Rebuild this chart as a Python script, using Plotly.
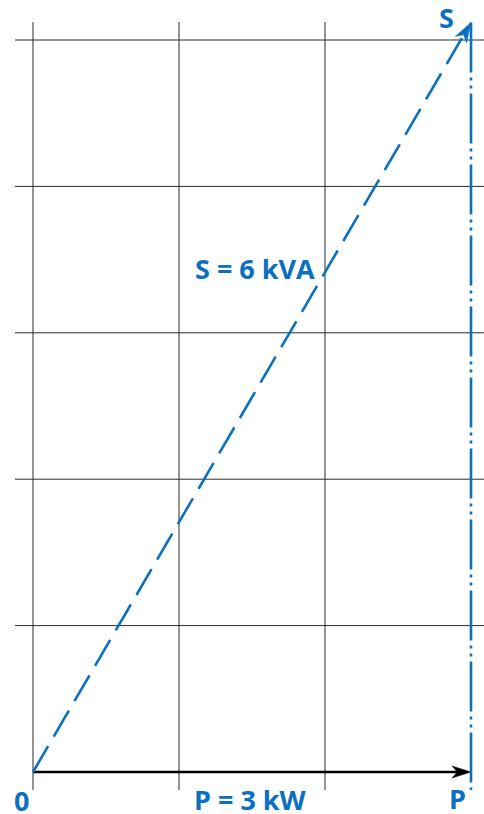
import math
import plotly.graph_objects as go

# ---- data ----
grid_x = [0, 1, 2]            # vertical grid lines (kW)
grid_y = [1, 2, 3, 4, 5]      # horizontal grid lines
P_kw = 3.0                    # active power
S_kva = 6.0                   # apparent power (label)
Q_tip = 5.12                  # height reached by the S arrow (grid units)
labels = {"S": "S", "O": "0", "P": "P", "Pval": "P = 3 kW", "Sval": "S = 6 kVA"}

BLUE = "#0a70bf"
FONT = "Open Sans"

# pixel scale of the drawing (plot occupies the whole page)
W, H = 484, 814
X0_PX, Y0_PX = 33, 772
PX_X, PX_Y = 146.0, 146.4
x_range = [-X0_PX / PX_X, (W - X0_PX) / PX_X]
y_range = [-(H - Y0_PX) / PX_Y, Y0_PX / PX_Y]
ext_x = 18 / PX_X
ext_y = 18 / PX_Y


def px(xp, yp):
    """page pixel -> data coords"""
    return (xp - X0_PX) / PX_X, (Y0_PX - yp) / PX_Y


def arrowhead(x0, y0, x1, y1, L=20, Wd=13, notch=0.72):
    dx, dy = (x1 - x0) * PX_X, (y1 - y0) * PX_Y
    n = math.hypot(dx, dy)
    ux, uy = dx / n, dy / n
    nx, ny = -uy, ux
    pts = [
        (0, 0),
        (-L * ux + Wd / 2 * nx, -L * uy + Wd / 2 * ny),
        (-notch * L * ux, -notch * L * uy),
        (-L * ux - Wd / 2 * nx, -L * uy - Wd / 2 * ny),
        (0, 0),
    ]
    xs = [x1 + p[0] / PX_X for p in pts]
    ys = [y1 + p[1] / PX_Y for p in pts]
    base = (x1 - notch * L * ux / PX_X, y1 - notch * L * uy / PX_Y)
    return xs, ys, base


fig = go.Figure()

# grid
shapes = []
for gx in grid_x:
    shapes.append(dict(type="line", xref="x", yref="y", x0=gx, x1=gx,
                       y0=-ext_y, y1=max(grid_y) + ext_y,
                       line=dict(color="#2a2a2a", width=1), layer="below"))
for gy in grid_y:
    shapes.append(dict(type="line", xref="x", yref="y", x0=-ext_x, x1=x_range[1],
                       y0=gy, y1=gy,
                       line=dict(color="#2a2a2a", width=1), layer="below"))

# P arrow (black)
pxs, pys, pbase = arrowhead(0, 0, P_kw, 0, L=19, Wd=12)
fig.add_trace(go.Scatter(x=[0, pbase[0]], y=[0, pbase[1]], mode="lines",
                         line=dict(color="black", width=2.6), hoverinfo="skip"))
fig.add_trace(go.Scatter(x=pxs, y=pys, mode="lines", fill="toself",
                         fillcolor="black", line=dict(color="black", width=0.5),
                         hoverinfo="skip"))

# S arrow (blue dashed)
sxs, sys_, sbase = arrowhead(0, 0, P_kw, Q_tip, L=20, Wd=13)
fig.add_trace(go.Scatter(x=[0, sbase[0]], y=[0, sbase[1]], mode="lines",
                         line=dict(color=BLUE, width=2.6, dash="30px,11px"),
                         hoverinfo="skip"))

# vertical dash-dot line at P
fig.add_trace(go.Scatter(x=[P_kw, P_kw], y=[Q_tip, -ext_y], mode="lines",
                         line=dict(color=BLUE, width=2.6,
                                   dash="50px,5px,3px,5px,3px,5px"),
                         hoverinfo="skip"))

fig.add_trace(go.Scatter(x=sxs, y=sys_, mode="lines", fill="toself",
                         fillcolor=BLUE, line=dict(color=BLUE, width=0.5),
                         hoverinfo="skip"))

font = dict(family=FONT, size=27, color=BLUE)


def label(text, xp, yp):
    x, y = px(xp, yp)
    return dict(x=x, y=y, xref="x", yref="y", text="<b>%s</b>" % text,
                showarrow=False, xanchor="center", yanchor="middle", font=font)


annotations = [
    label(labels["S"], 446, 17),
    label(labels["O"], 21, 800),
    label(labels["P"], 457, 798),
    label(labels["Pval"], 250, 799),
    label(labels["Sval"], 255, 268),
]

fig.update_layout(
    width=W, height=H, margin=dict(l=0, r=0, t=0, b=0),
    paper_bgcolor="white", plot_bgcolor="white", showlegend=False,
    shapes=shapes, annotations=annotations,
    xaxis=dict(range=x_range, visible=False, fixedrange=True),
    yaxis=dict(range=y_range, visible=False, fixedrange=True),
    hovermode=False,
)

fig.write_html("out.html", config={"displayModeBar": False},
               post_script="document.body.style.margin='0';document.body.style.overflow='hidden';")
